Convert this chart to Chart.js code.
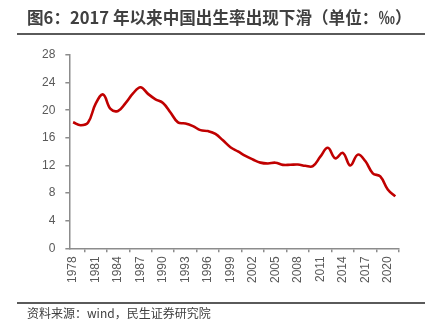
<!DOCTYPE html>
<html>
<head>
<meta charset="utf-8">
<script src="https://cdn.jsdelivr.net/npm/chart.js@4.4.1/dist/chart.umd.min.js"></script>
<style>
  body { margin: 0; background: #fff; }
  #wrap { position: relative; width: 442px; height: 327px; overflow: hidden; }
  #chart { position: absolute; left: 0; top: 0; }
  .title { position: absolute; left: 27px; top: 5px; font: bold 16.6px "Noto Sans CJK SC", sans-serif; color: #404040; white-space: nowrap; }
  .rule { position: absolute; left: 17px; width: 408px; height: 2px; background: #5a5a5a; }
  .source { position: absolute; left: 27px; top: 304px; font: 12px "Noto Sans CJK SC", sans-serif; color: #404040; white-space: nowrap; }
</style>
</head>
<body>
<div id="wrap">
  <canvas id="chart" width="442" height="327"></canvas>
  <div class="title">图6：2017 年以来中国出生率出现下滑（单位：‰）</div>
  <div class="rule" style="top:33px"></div>
  <div class="rule" style="top:302px"></div>
  <div class="source">资料来源：wind，民生证券研究院</div>
</div>
<script>
const years = []
for (let y = 1978; y <= 2021; y++) years.push(String(y))

// 出生率（‰）
const birthRate = [18.25, 17.82, 18.21, 20.91, 22.28, 20.19, 19.90, 21.04, 22.43, 23.33,
  22.37, 21.58, 21.06, 19.68, 18.24, 18.09, 17.70, 17.12, 16.98, 16.57,
  15.64, 14.64, 14.03, 13.38, 12.86, 12.41, 12.29, 12.40, 12.09, 12.10,
  12.14, 11.95, 11.90, 13.27, 14.57, 13.03, 13.83, 11.99, 13.57, 12.64,
  10.86, 10.41, 8.52, 7.52]

const yTicks = [0, 4, 8, 12, 16, 20, 24, 28]

const axisColor = "#8c8c8c"
const tickFont = { family: "Liberation Sans", size: 12 }

const ctx = document.getElementById("chart").getContext("2d")
const myChart = new Chart(ctx, {
  type: "line",
  data: {
    labels: years,
    datasets: [{
      data: birthRate,
      borderColor: "#c00000",
      borderWidth: 2.6,
      pointRadius: 0,
      tension: 0.4,
      fill: false
    }]
  },
  options: {
    responsive: false,
    animation: false,
    layout: { padding: { left: 32, right: 43, top: 55, bottom: 40 } },
    plugins: { legend: { display: false }, tooltip: { enabled: false } },
    scales: {
      x: {
        offset: true,
        grid: { offset: true, drawOnChartArea: false, tickLength: 4, color: axisColor, lineWidth: 1.5 },
        border: { color: axisColor, width: 1.5 },
        ticks: {
          autoSkip: false,
          minRotation: 90,
          maxRotation: 90,
          padding: 4,
          color: "#595959",
          font: tickFont,
          callback: function (val, i) { return i % 3 === 0 ? years[i] : null }
        }
      },
      y: {
        min: 0,
        max: 28,
        afterBuildTicks: function (axis) { axis.ticks = yTicks.map(v => ({ value: v })) },
        grid: { drawOnChartArea: false, tickLength: 4, color: axisColor, lineWidth: 1.5 },
        border: { color: axisColor, width: 1.5 },
        ticks: { padding: 10, color: "#595959", font: tickFont }
      }
    }
  }
})
</script>
</body>
</html>
